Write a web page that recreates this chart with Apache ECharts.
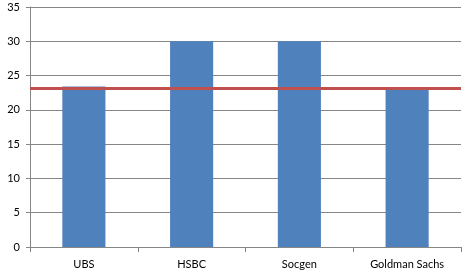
<!DOCTYPE html>
<html><head><meta charset="utf-8">
<script src="https://cdn.jsdelivr.net/npm/echarts@6/dist/echarts.min.js"></script>
<style>html,body{margin:0;padding:0;background:#fff}#c{width:469px;height:277px}</style>
</head><body><div id="c"></div>
<script>
var categories = ["UBS", "HSBC", "Socgen", "Goldman Sachs"];
var values = [23.4, 30, 30, 23.0];
var refLine = 23.1;
var yTicks = [0, 5, 10, 15, 20, 25, 30, 35];

var chart = echarts.init(document.getElementById('c'), null, {renderer: 'canvas'});
chart.setOption({
  animation: false,
  grid: {left: 30, right: 8, top: 7, bottom: 30, containLabel: false},
  xAxis: {
    type: 'category', data: categories,
    axisLine: {lineStyle: {color: '#868686', width: 1}},
    axisTick: {show: true, alignWithLabel: false, length: 5, lineStyle: {color: '#868686'}},
    axisLabel: {color: '#000', fontFamily: 'Lato, "Open Sans", sans-serif', fontSize: 11, margin: 12}
  },
  yAxis: {
    type: 'value', min: yTicks[0], max: yTicks[yTicks.length - 1], interval: 5,
    axisLine: {show: true, lineStyle: {color: '#868686', width: 1}},
    axisTick: {show: true, length: 4, lineStyle: {color: '#868686'}},
    splitLine: {lineStyle: {color: '#868686', width: 1}},
    axisLabel: {color: '#000', fontFamily: 'Lato, "Open Sans", sans-serif', fontSize: 11, margin: 10}
  },
  series: [{
    type: 'bar', data: values, barCategoryGap: '60%',
    itemStyle: {color: '#4F81BD'},
    markLine: {
      silent: true, symbol: ['none', 'none'], label: {show: false},
      lineStyle: {color: '#C0504D', width: 3, type: 'solid'},
      data: [{yAxis: refLine}]
    }
  }]
});
</script></body></html>
